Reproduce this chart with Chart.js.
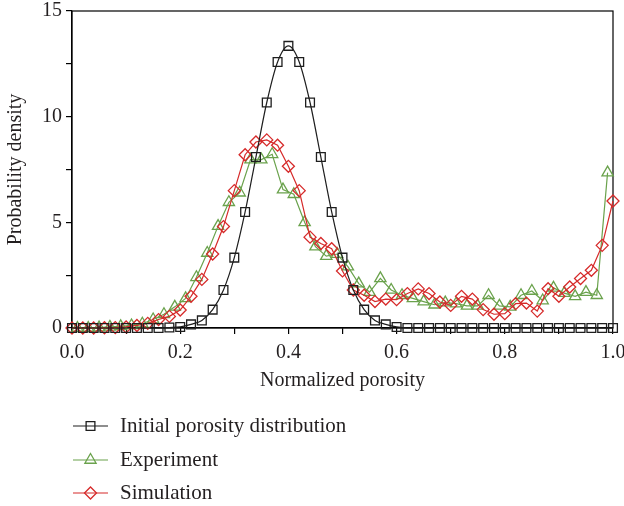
<!DOCTYPE html>
<html>
<head>
<meta charset="utf-8">
<script src="https://cdn.jsdelivr.net/npm/chart.js@4.4.1/dist/chart.umd.min.js"></script>
<style>
  html, body { margin: 0; padding: 0; background: #ffffff; }
  #wrap { position: relative; width: 624px; height: 506px; }
</style>
</head>
<body>
<div id="wrap"><canvas id="c" width="624" height="506"></canvas></div>
<script>
// ---- data ----
const porosityEven = [0.00,0.02,0.04,0.06,0.08,0.10,0.12,0.14,0.16,0.18,0.20,0.22,0.24,0.26,0.28,0.30,0.32,0.34,0.36,0.38,0.40,0.42,0.44,0.46,0.48,0.50,0.52,0.54,0.56,0.58,0.60,0.62,0.64,0.66,0.68,0.70,0.72,0.74,0.76,0.78,0.80,0.82,0.84,0.86,0.88,0.90,0.92,0.94,0.96,0.98,1.00];
const porosityOdd = [0.01,0.03,0.05,0.07,0.09,0.11,0.13,0.15,0.17,0.19,0.21,0.23,0.25,0.27,0.29,0.31,0.33,0.35,0.37,0.39,0.41,0.43,0.45,0.47,0.49,0.51,0.53,0.55,0.57,0.59,0.61,0.63,0.65,0.67,0.69,0.71,0.73,0.75,0.77,0.79,0.81,0.83,0.85,0.87,0.89,0.91,0.93,0.95,0.97,0.99];

const initialDensity = [0,0,0,0,0,0,0,0,0,0.02,0.05,0.17,0.36,0.87,1.8,3.33,5.49,8.09,10.67,12.59,13.35,12.59,10.67,8.09,5.49,3.33,1.8,0.87,0.36,0.17,0.05,0,0,0,0,0,0,0,0,0,0,0,0,0,0,0,0,0,0,0,0];
const experimentDensity = [0,0,0.02,0.05,0.08,0.12,0.2,0.4,0.65,1.0,1.4,2.4,3.55,4.82,5.95,6.4,7.97,7.97,8.22,6.55,6.33,5.0,3.85,3.4,3.5,2.9,2.1,1.7,2.35,1.8,1.55,1.4,1.25,1.1,1.2,1.15,1.05,1.05,1.55,1.05,1.0,1.55,1.75,1.3,1.9,1.65,1.5,1.7,1.55,7.35];
const simulationDensity = [0,0,0,0.01,0.02,0.05,0.12,0.22,0.4,0.55,0.85,1.5,2.3,3.5,4.8,6.5,8.2,8.8,8.9,8.65,7.65,6.5,4.3,4.0,3.75,2.7,1.8,1.55,1.25,1.37,1.34,1.63,1.85,1.63,1.23,1.07,1.5,1.37,0.87,0.65,0.68,1.15,1.18,0.8,1.86,1.5,1.94,2.34,2.73,3.91,6.01];

const seriesNames = ["Initial porosity distribution", "Experiment", "Simulation"];
const xTickLabels = ["0.0","0.2","0.4","0.6","0.8","1.0"];
const yTickLabels = ["0","5","10","15"];

// ---- styling ----
const FONT = "'Liberation Serif', 'Times New Roman', serif";
const TEXT = "#231f20";
const colBlack = "#1e1e1e", colGreen = "#6aa24c", colRed = "#d62a2a";

function pts(xs, ys) { return xs.map((x, i) => ({ x: x, y: ys[i] })); }

const boxPlugin = {
  id: 'box',
  beforeDatasetsDraw(chart) {
    const a = chart.chartArea, ctx = chart.ctx;
    ctx.save();
    ctx.strokeStyle = '#000';
    ctx.lineWidth = 1.2;
    ctx.strokeRect(a.left, a.top, a.right - a.left, a.bottom - a.top);
    ctx.restore();
  }
};

const legendPlugin = {
  id: 'stackLegend',
  afterDraw(chart) {
    const ctx = chart.ctx;
    const rows = [426, 460, 493];
    chart.data.datasets.forEach((ds, i) => {
      const y = rows[i];
      ctx.save();
      ctx.strokeStyle = ds.borderColor;
      ctx.lineWidth = 1.2;
      ctx.beginPath(); ctx.moveTo(73, y); ctx.lineTo(108, y); ctx.stroke();
      ctx.restore();
      ctx.save();
      ctx.strokeStyle = ds.pointBorderColor;
      ctx.fillStyle = 'rgba(0,0,0,0)';
      ctx.lineWidth = ds.pointBorderWidth;
      Chart.helpers.drawPoint(ctx, {
        pointStyle: ds.pointStyle, radius: ds.pointRadius, rotation: 0,
        borderWidth: ds.pointBorderWidth
      }, 90.5, y);
      ctx.restore();
      ctx.save();
      ctx.fillStyle = TEXT;
      ctx.font = "21px " + FONT;
      ctx.textBaseline = 'middle';
      ctx.fillText(seriesNames[i], 120, y);
      ctx.restore();
    });
  }
};

new Chart(document.getElementById('c'), {
  type: 'line',
  data: {
    datasets: [
      {
        label: seriesNames[0], data: pts(porosityEven, initialDensity),
        borderColor: colBlack, pointBorderColor: colBlack, backgroundColor: 'rgba(0,0,0,0)',
        pointBackgroundColor: 'rgba(0,0,0,0)', borderWidth: 1.2, pointBorderWidth: 1.3,
        pointStyle: 'rect', pointRadius: 6.2, tension: 0.4, cubicInterpolationMode: 'monotone',
        clip: false, order: 0
      },
      {
        label: seriesNames[1], data: pts(porosityOdd, experimentDensity),
        borderColor: colGreen, pointBorderColor: colGreen, backgroundColor: 'rgba(0,0,0,0)',
        pointBackgroundColor: 'rgba(0,0,0,0)', borderWidth: 1.2, pointBorderWidth: 1.3,
        pointStyle: 'triangle', pointRadius: 6.5, tension: 0, clip: false, order: 2
      },
      {
        label: seriesNames[2], data: pts(porosityEven, simulationDensity),
        borderColor: colRed, pointBorderColor: colRed, backgroundColor: 'rgba(0,0,0,0)',
        pointBackgroundColor: 'rgba(0,0,0,0)', borderWidth: 1.2, pointBorderWidth: 1.3,
        pointStyle: 'rectRot', pointRadius: 6, tension: 0, clip: false, order: 1
      }
    ]
  },
  options: {
    responsive: false,
    animation: false,
    layout: { padding: { left: 0, right: 11, top: 11, bottom: 111 } },
    plugins: { legend: { display: false }, tooltip: { enabled: false } },
    scales: {
      x: {
        type: 'linear', min: 0, max: 1,
        afterFit(s) { s.height = 67; s.paddingLeft = 0; s.paddingRight = 0; },
        border: { display: true, color: '#000', width: 1.2 },
        grid: { drawOnChartArea: false, drawTicks: true, tickLength: 6, color: '#000', tickColor: '#000', lineWidth: 1.2 },
        ticks: {
          stepSize: 0.1, autoSkip: false, maxRotation: 0, color: TEXT, padding: 7,
          font: { family: FONT, size: 20 },
          callback(v) {
            const k = Math.round(v * 10);
            return k % 2 === 0 ? xTickLabels[k / 2] : '';
          }
        },
        title: { display: true, text: 'Normalized porosity', color: TEXT, font: { family: FONT, size: 20 }, padding: { top: 2, bottom: 2 } }
      },
      y: {
        min: 0, max: 15,
        afterFit(s) { s.width = 72; s.paddingTop = 0; s.paddingBottom = 0; },
        border: { display: true, color: '#000', width: 1.2 },
        grid: { drawOnChartArea: false, drawTicks: true, tickLength: 6, color: '#000', tickColor: '#000', lineWidth: 1.2 },
        ticks: {
          stepSize: 2.5, autoSkip: false, color: TEXT, padding: 4,
          font: { family: FONT, size: 20 },
          callback(v) {
            const k = Math.round(v / 2.5);
            return k % 2 === 0 ? yTickLabels[k / 2] : '';
          }
        },
        title: { display: true, text: 'Probability density', color: TEXT, font: { family: FONT, size: 20 }, padding: { top: 4, bottom: 2 } }
      }
    }
  },
  plugins: [boxPlugin, legendPlugin]
});
</script>
</body>
</html>
